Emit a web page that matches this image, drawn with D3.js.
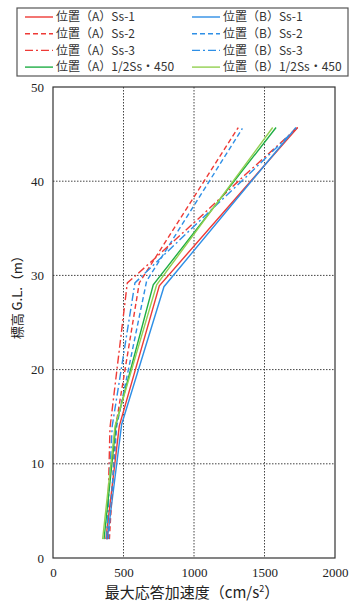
<!DOCTYPE html>
<html>
<head>
<meta charset="utf-8">
<script src="https://cdn.jsdelivr.net/npm/d3@7"></script>
<style>
  body { margin: 0; background: #fff; }
</style>
</head>
<body>
<div id="chart"></div>
<script>
var svgWidth = 350;
var svgHeight = 606;

var margin = { top: 87, right: 15, bottom: 48, left: 53 };
var width = svgWidth - margin.left - margin.right;
var height = svgHeight - margin.top - margin.bottom;

var jpFont = "'Noto Sans CJK JP', sans-serif";
var numFont = "'Liberation Serif', 'DejaVu Serif', serif";

// data: [acceleration cm/s2, height m]
var seriesNames = ["位置（A）Ss-1", "位置（B）Ss-1", "位置（A）Ss-2", "位置（B）Ss-2",
                   "位置（A）Ss-3", "位置（B）Ss-3", "位置（A）1/2Ss・450", "位置（B）1/2Ss・450"];
var aSs1 = [[375, 2], [470, 14], [754, 28.9], [1735, 45.7]];
var bSs1 = [[385, 2], [487, 14.2], [787, 28.8], [1723, 45.7]];
var aSs2 = [[400, 2], [445, 14], [612, 29.2], [1314, 45.7]];
var bSs2 = [[393, 2], [452, 14], [664, 29.4], [1343, 45.6]];
var aSs3 = [[385, 2], [404, 13.8], [527, 29.2], [700, 31.5], [1066, 36.5], [1357, 40.6], [1735, 45.7]];
var bSs3 = [[380, 2], [420, 14], [581, 29.2], [740, 31.5], [1090, 36.5], [1380, 40.6], [1725, 45.6]];
var aHalf = [[362, 2], [447, 14.2], [711, 29.0], [1582, 45.7]];
var bHalf = [[352, 2], [440, 14], [735, 29.0], [1558, 45.7]];
var xTicks = [0, 500, 1000, 1500, 2000];
var yTicks = [0, 10, 20, 30, 40, 50];

var seriesData = [aSs1, bSs1, aSs2, bSs2, aSs3, bSs3, aHalf, bHalf];
var colors = ["#ee3a36", "#2e8fe6", "#ee3a36", "#2e8fe6", "#ee3a36", "#2e8fe6", "#1fae45", "#92d050"];
var dashes = [null, null, "5,3", "5,3", "8,3,2,3", "8,3,2,3", null, null];

var svg = d3.select("#chart")
  .append("svg")
  .attr("width", svgWidth)
  .attr("height", svgHeight);

var chartGroup = svg.append("g")
  .attr("transform", `translate(${margin.left}, ${margin.top})`);

var xScale = d3.scaleLinear().domain([0, 2000]).range([0, width]);
var yScale = d3.scaleLinear().domain([0, 50]).range([height, 0]);

// grid
chartGroup.append("g")
  .selectAll("line")
  .data(xTicks.slice(1, -1))
  .enter()
  .append("line")
  .attr("x1", d => xScale(d)).attr("x2", d => xScale(d))
  .attr("y1", 0).attr("y2", height)
  .attr("stroke", "#444").attr("stroke-dasharray", "1.5,1.5");

chartGroup.append("g")
  .selectAll("line")
  .data(yTicks.slice(1, -1))
  .enter()
  .append("line")
  .attr("y1", d => yScale(d)).attr("y2", d => yScale(d))
  .attr("x1", 0).attr("x2", width)
  .attr("stroke", "#444").attr("stroke-dasharray", "1.5,1.5");

// axes
var bottomAxis = d3.axisBottom(xScale).tickValues(xTicks).tickFormat(d3.format("d")).tickSize(0).tickPadding(10);
var leftAxis = d3.axisLeft(yScale).tickValues(yTicks).tickFormat(d3.format("d")).tickSize(0).tickPadding(9);

chartGroup.append("g")
  .attr("transform", `translate(0, ${height})`)
  .call(bottomAxis)
  .call(g => g.select(".domain").remove())
  .selectAll("text")
  .style("font-family", numFont)
  .style("font-size", "13px")
  .attr("fill", "#222");

chartGroup.append("g")
  .call(leftAxis)
  .call(g => g.select(".domain").remove())
  .selectAll("text")
  .style("font-family", numFont)
  .style("font-size", "13px")
  .attr("fill", "#222");

// lines
var line = d3.line()
  .x(d => xScale(d[0]))
  .y(d => yScale(d[1]));

chartGroup.selectAll(".series")
  .data(seriesData)
  .enter()
  .append("path")
  .attr("class", "series")
  .attr("d", line)
  .attr("fill", "none")
  .attr("stroke", (d, i) => colors[i])
  .attr("stroke-width", 1.4)
  .attr("stroke-dasharray", (d, i) => dashes[i]);

// frame
chartGroup.append("rect")
  .attr("width", width).attr("height", height)
  .attr("fill", "none").attr("stroke", "#333").attr("stroke-width", 1.2);

// axis labels
chartGroup.append("text")
  .attr("transform", `translate(-31, ${yScale(28)}) rotate(-90)`)
  .attr("text-anchor", "middle")
  .style("font-family", jpFont)
  .style("font-size", "13px")
  .attr("fill", "#222")
  .text("標高 G.L.（m）");

var xl = chartGroup.append("text")
  .attr("x", width / 2 - 2)
  .attr("y", height + 40)
  .attr("text-anchor", "middle")
  .style("font-family", jpFont)
  .style("font-size", "15px")
  .attr("fill", "#222");
xl.append("tspan").text("最大応答加速度（cm/s");
xl.append("tspan").attr("dy", -6).style("font-size", "9px").text("2");
xl.append("tspan").attr("dy", 6).text("）");

// legend
var legend = svg.append("g");
legend.append("rect")
  .attr("x", 17).attr("y", 8)
  .attr("width", 331).attr("height", 68)
  .attr("fill", "#fff").attr("stroke", "#555").attr("stroke-width", 1.2);

var items = legend.selectAll(".item")
  .data(seriesNames)
  .enter()
  .append("g")
  .attr("class", "item")
  .attr("transform", (d, i) => `translate(${i % 2 === 0 ? 25 : 192}, ${17 + Math.floor(i / 2) * 16.7})`);

items.append("line")
  .attr("x1", 0).attr("x2", 28)
  .attr("stroke", (d, i) => colors[i])
  .attr("stroke-width", 1.4)
  .attr("stroke-dasharray", (d, i) => dashes[i]);

items.append("text")
  .attr("x", 31)
  .attr("dy", "0.35em")
  .style("font-family", jpFont)
  .style("font-size", "12px")
  .attr("fill", "#333")
  .text(d => d);
</script>
</body>
</html>
